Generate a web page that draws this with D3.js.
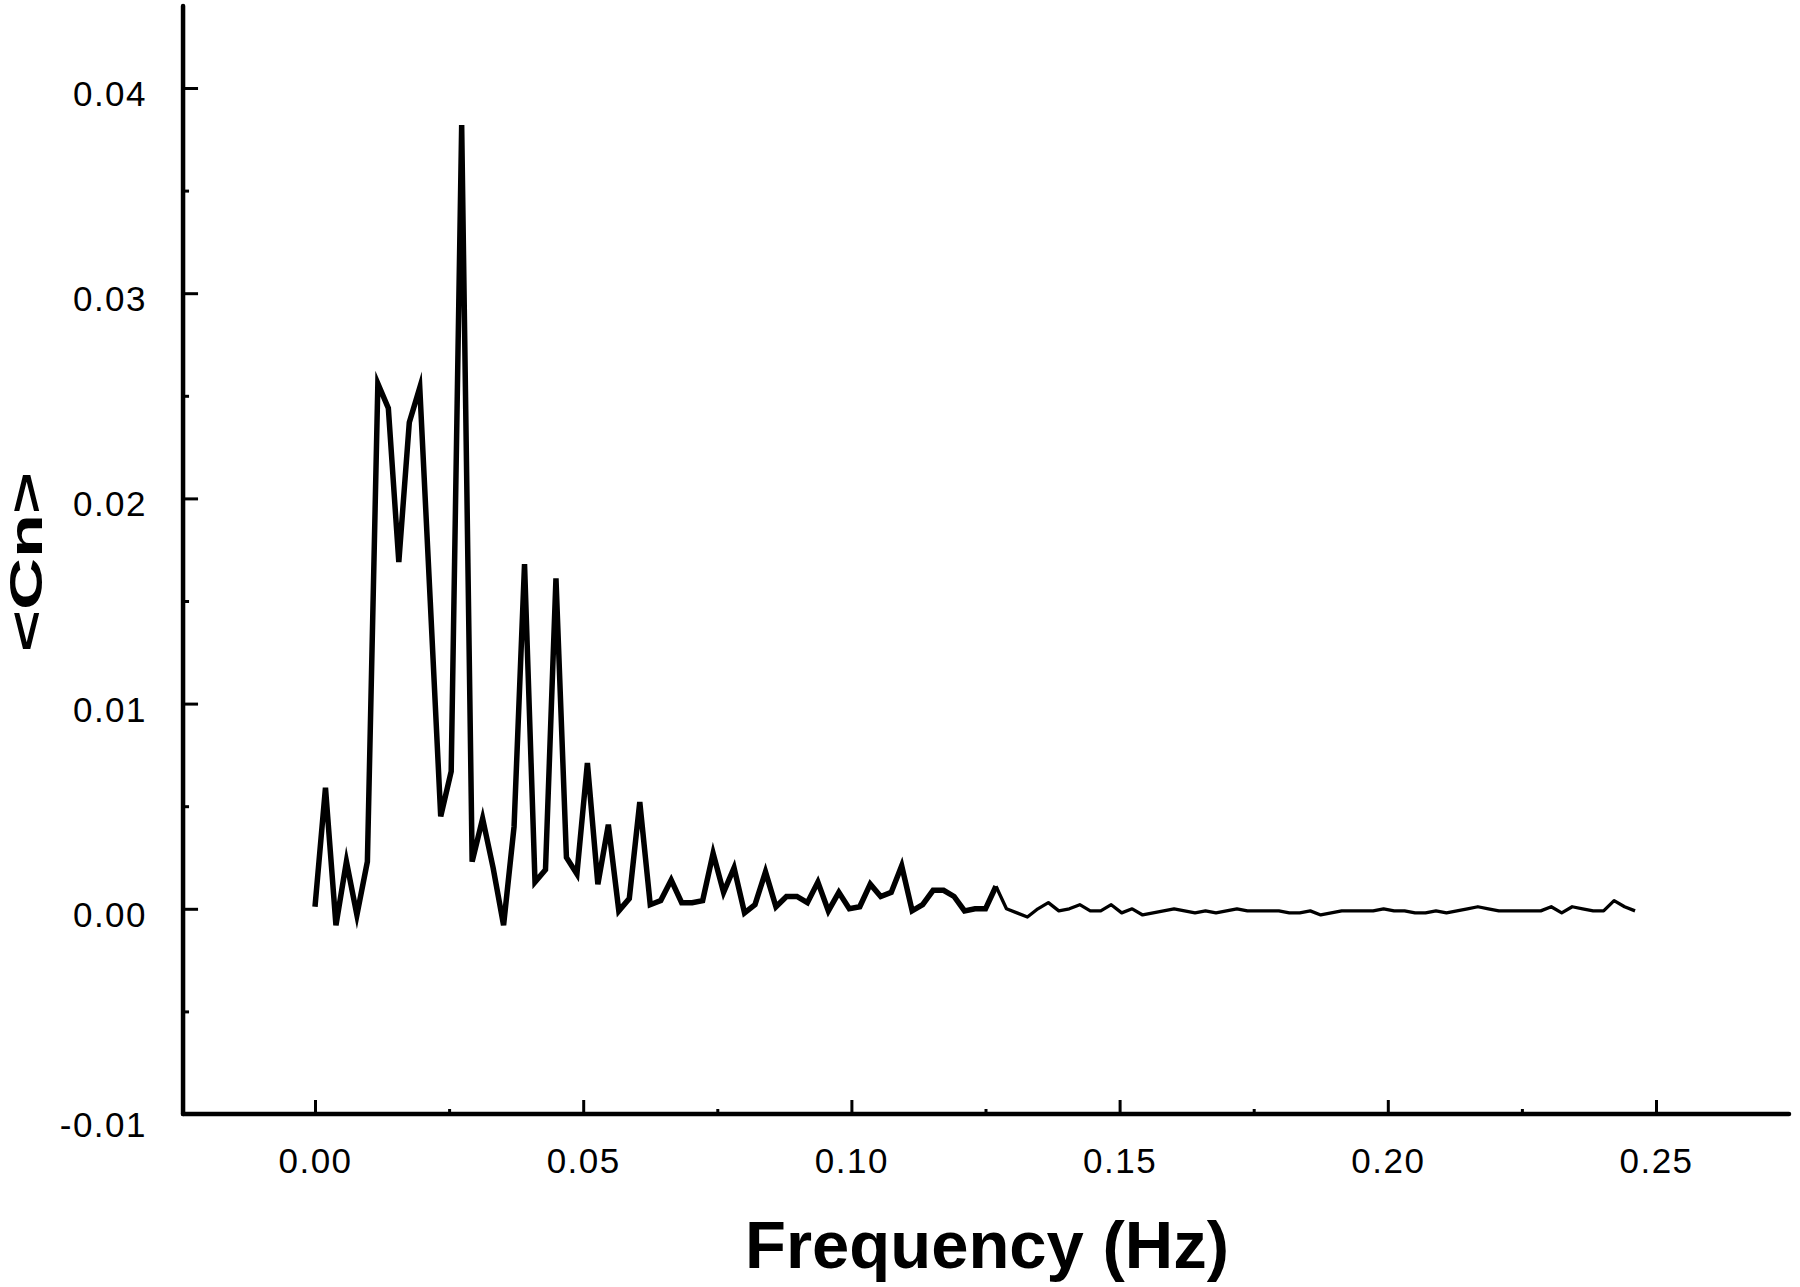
<!DOCTYPE html>
<html><head><meta charset="utf-8">
<script src="https://cdn.jsdelivr.net/npm/d3@7"></script>
<style>body{margin:0;background:#fff}svg{display:block}</style>
</head><body>
<svg id="chart" width="1800" height="1287"></svg>
<script>
// ---- data ----
const binWidthHz = 0.001953125; // spectral resolution (1/512 Hz)
const spectrum = [
  0.0001, 0.0059, -0.0008, 0.0023, -0.0003, 0.0023, 0.0256, 0.0244, 0.0169, 0.0237,
  0.0254, 0.0150, 0.0045, 0.0067, 0.0382, 0.0023, 0.0044, 0.0020, -0.0008, 0.0040,
  0.0168, 0.0013, 0.0019, 0.0161, 0.0025, 0.0017, 0.0071, 0.0012, 0.0041, -0.0001,
  0.0005, 0.0052, 0.0002, 0.0004, 0.0014, 0.0003, 0.0003, 0.0004, 0.0027, 0.0008,
  0.0020, -0.0002, 0.0002, 0.0018, 0.0001, 0.0006, 0.0006, 0.0003, 0.0013, -0.0001,
  0.0008, 0.0000, 0.0001, 0.0012, 0.0006, 0.0008, 0.0021, -0.0001, 0.0002, 0.0009,
  0.0009, 0.0006, -0.0001, 0.0000, 0.0000, 0.0011, 0.0000, -0.0002, -0.0004, 0.0000,
  0.0003, -0.0001, 0.0000, 0.0002, -0.0001, -0.0001, 0.0002, -0.0002, 0.0000, -0.0003,
  -0.0002, -0.0001, 0.0000, -0.0001, -0.0002, -0.0001, -0.0002, -0.0001, 0.0000, -0.0001,
  -0.0001, -0.0001, -0.0001, -0.0002, -0.0002, -0.0001, -0.0003, -0.0002, -0.0001, -0.0001,
  -0.0001, -0.0001, 0.0000, -0.0001, -0.0001, -0.0002, -0.0002, -0.0001, -0.0002, -0.0001,
  0.0000, 0.0001, 0.0000, -0.0001, -0.0001, -0.0001, -0.0001, -0.0001, 0.0001, -0.0002,
  0.0001, 0.0000, -0.0001, -0.0001, 0.0004, 0.0001, -0.0001
];
const xTickValues = [0, 0.05, 0.10, 0.15, 0.20, 0.25];
const xTickLabels = ["0.00", "0.05", "0.10", "0.15", "0.20", "0.25"];
const xMinorTicks = [0.025, 0.075, 0.125, 0.175, 0.225];
const yTickValues = [0.04, 0.03, 0.02, 0.01, 0.00];
const yTickLabels = ["0.04", "0.03", "0.02", "0.01", "0.00"];
const yMinorTicks = [0.035, 0.025, 0.015, 0.005, -0.005];
const yBottomLabel = "-0.01";
const xAxisTitle = "Frequency (Hz)";
const yAxisTitle = "<Cn>";
const xExtent = [-0.0246, 0.2748];
const yExtent = [-0.01, 0.0440];

// ---- drawing ----
const svg = d3.select("#chart");
svg.append("rect").attr("width", 1800).attr("height", 1287).attr("fill", "#fff");

const x = d3.scaleLinear().domain([0, 0.25]).range([315, 1656]);
const y = d3.scaleLinear().domain([-0.01, 0.04]).range([1114, 88]);

const points = spectrum.map((v, i) => ({f: i * binWidthHz, v}));
const line = d3.line().x(d => x(d.f)).y(d => y(d.v));

const font = "'Liberation Sans', Arial, Helvetica, sans-serif";

// axis lines
const axisY0 = y(yExtent[0]);
const axisX0 = x(xExtent[0]);
svg.append("line").attr("x1", axisX0).attr("x2", x(xExtent[1]))
  .attr("y1", axisY0).attr("y2", axisY0)
  .attr("stroke", "#000").attr("stroke-width", 4.5).attr("stroke-linecap", "round");
svg.append("line").attr("x1", axisX0).attr("x2", axisX0)
  .attr("y1", axisY0).attr("y2", y(yExtent[1]))
  .attr("stroke", "#000").attr("stroke-width", 4.5).attr("stroke-linecap", "round");

// y axis major ticks + labels
const yAxis = d3.axisLeft(y).tickValues(yTickValues)
  .tickFormat((d, i) => yTickLabels[i]).tickSize(-15).tickPadding(36);
const gy = svg.append("g").attr("transform", `translate(${axisX0},0)`).call(yAxis);
gy.select(".domain").remove();
gy.selectAll(".tick line").attr("stroke", "#000").attr("stroke-width", 3);
gy.selectAll(".tick text").attr("font-family", font).attr("font-size", 35)
  .attr("letter-spacing", 1.5).attr("fill", "#000").attr("dy", "0.5em");

// y bottom label (no tick at axis corner)
svg.append("text").attr("x", axisX0 - 36).attr("y", y(-0.01)).attr("dy", "0.66em")
  .attr("text-anchor", "end").attr("font-family", font).attr("font-size", 35)
  .attr("letter-spacing", 1.5).text(yBottomLabel);

// y minor ticks
const gym = svg.append("g").attr("transform", `translate(${axisX0},0)`)
  .call(d3.axisLeft(y).tickValues(yMinorTicks).tickFormat("").tickSize(-6));
gym.select(".domain").remove();
gym.selectAll(".tick line").attr("stroke", "#000").attr("stroke-width", 3);

// x axis major ticks + labels
const xAxis = d3.axisBottom(x).tickValues(xTickValues)
  .tickFormat((d, i) => xTickLabels[i]).tickSize(-14).tickPadding(34);
const gx = svg.append("g").attr("transform", `translate(0,${axisY0})`).call(xAxis);
gx.select(".domain").remove();
gx.selectAll(".tick line").attr("stroke", "#000").attr("stroke-width", 3);
gx.selectAll(".tick text").attr("font-family", font).attr("font-size", 35)
  .attr("letter-spacing", 1.5).attr("fill", "#000");

// x minor ticks
const gxm = svg.append("g").attr("transform", `translate(0,${axisY0})`)
  .call(d3.axisBottom(x).tickValues(xMinorTicks).tickFormat("").tickSize(-5));
gxm.select(".domain").remove();
gxm.selectAll(".tick line").attr("stroke", "#000").attr("stroke-width", 3);

// data line: heavier in the dense low-frequency part, lighter in the tail
svg.append("path").datum(points.slice(0, 66)).attr("d", line)
  .attr("fill", "none").attr("stroke", "#000").attr("stroke-width", 5.5)
  .attr("stroke-linejoin", "miter").attr("stroke-miterlimit", 6);
svg.append("path").datum(points.slice(65)).attr("d", line)
  .attr("fill", "none").attr("stroke", "#000").attr("stroke-width", 3.3)
  .attr("stroke-linejoin", "round");

// axis titles
svg.append("text").attr("x", 987).attr("y", 1268).attr("text-anchor", "middle")
  .attr("font-family", font).attr("font-weight", "bold").attr("font-size", 67)
  .attr("fill", "#000").text(xAxisTitle);
svg.append("text").attr("transform", "translate(42,562) rotate(-90)")
  .attr("text-anchor", "middle").attr("font-family", font).attr("font-weight", "bold")
  .attr("font-size", 47).attr("fill", "#000")
  .attr("textLength", 180).attr("lengthAdjust", "spacingAndGlyphs").text(yAxisTitle);
</script>
</body></html>
